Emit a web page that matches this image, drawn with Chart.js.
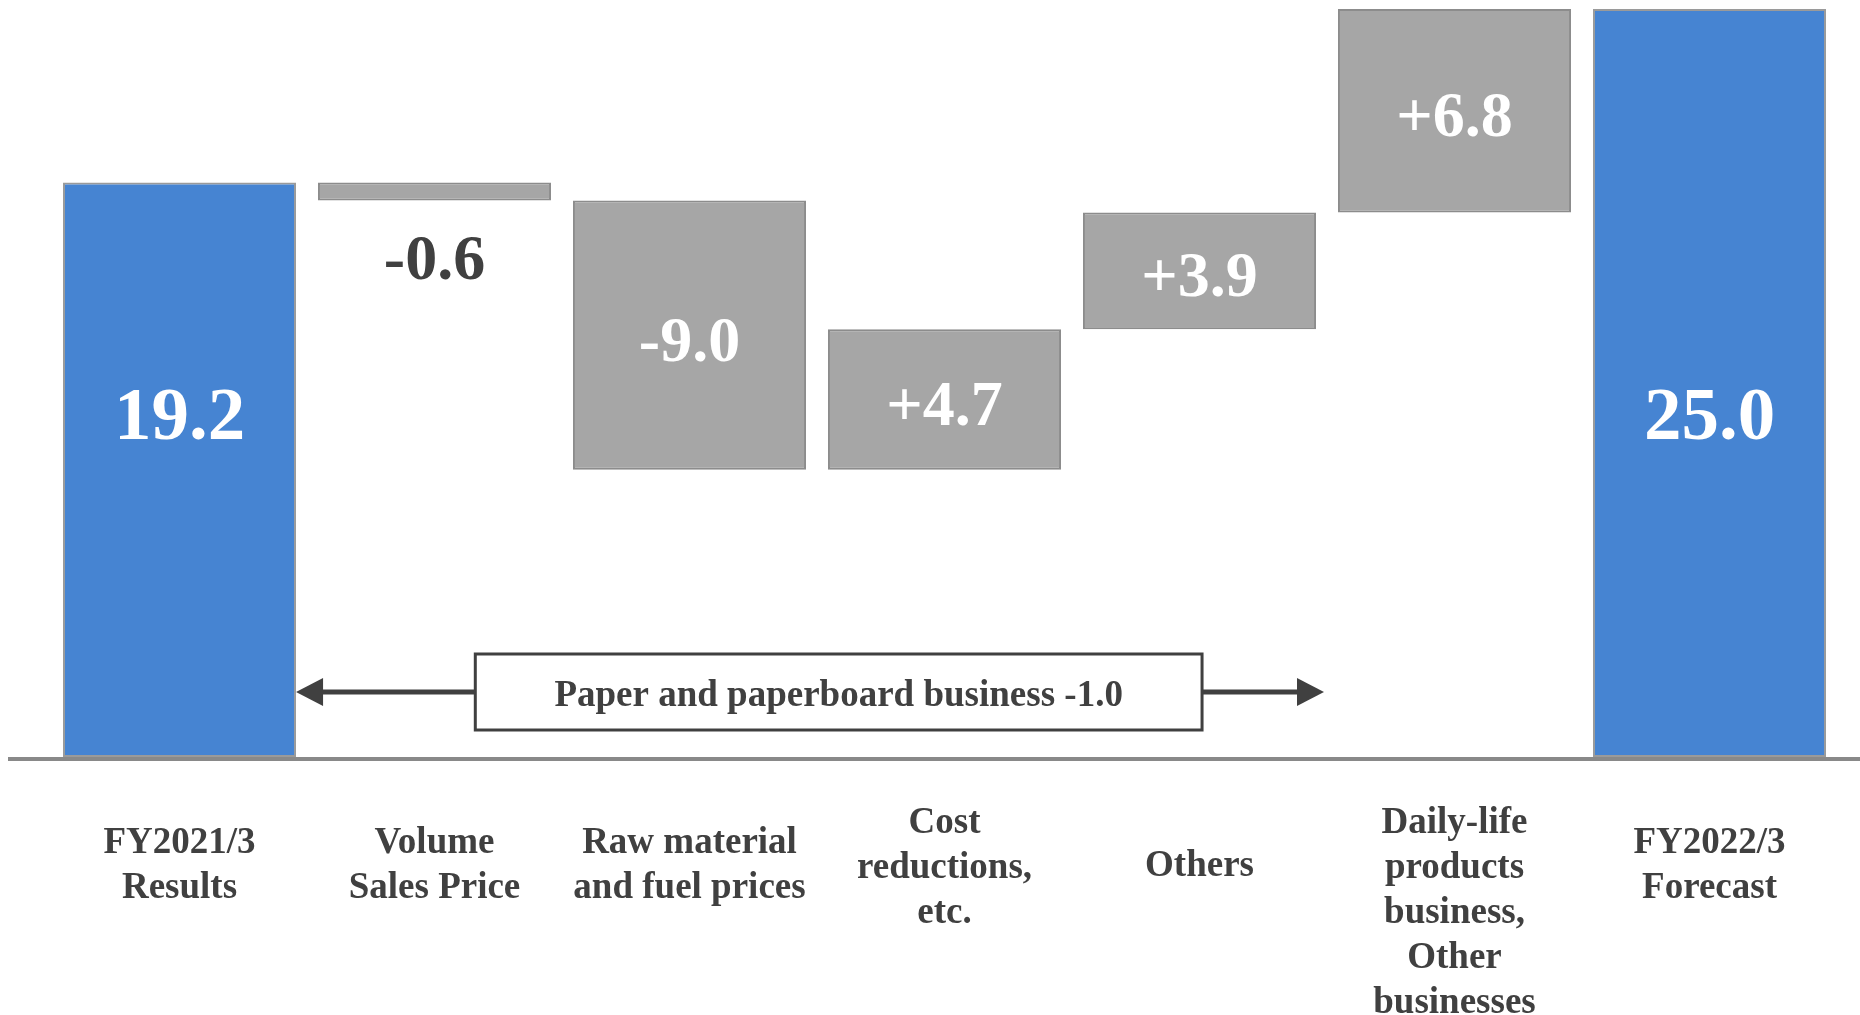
<!DOCTYPE html>
<html>
<head>
<meta charset="utf-8">
<script src="https://cdn.jsdelivr.net/npm/chart.js@4/dist/chart.umd.min.js"></script>
<style>
  html, body { margin: 0; padding: 0; background: #fff; }
  #wrap { width: 1860px; height: 1015px; position: relative; }
</style>
</head>
<body>
<div id="wrap"><canvas id="bridgeChart"></canvas></div>
<script>
// --- data ---
const categories = [
    ['FY2021/3', 'Results'],
    ['Volume', 'Sales Price'],
    ['Raw material', 'and fuel prices'],
    ['Cost', 'reductions,', 'etc.'],
    ['Others'],
    ['Daily-life', 'products', 'business,', 'Other', 'businesses'],
    ['FY2022/3', 'Forecast']
];
const startTotal = 19.2;
const deltas = [-0.6, -9.0, 4.7, 3.9, 6.8];
const endTotal = 25.0;
const noteText = 'Paper and paperboard business -1.0';

// build floating bars [from, to] out of the running sum
const floatData = [[0, startTotal]];
const labelText = [startTotal.toFixed(1)];
let running = startTotal;
deltas.forEach(d => {
    const next = Math.round((running + d) * 10) / 10;
    floatData.push([running, next]);
    labelText.push((d > 0 ? '+' : '') + d.toFixed(1));
    running = next;
});
floatData.push([0, endTotal]);
labelText.push(endTotal.toFixed(1));

const isTotal = floatData.map((d, i) => i === 0 || i === floatData.length - 1);
const BLUE = '#4684d2';
const GREY = '#a6a6a6';
const DARK = '#404040';
const SERIF = '"Liberation Serif", "Times New Roman", serif';

function arrowHead(ctx, tipX, y, dir) {
    ctx.beginPath();
    ctx.moveTo(tipX, y);
    ctx.lineTo(tipX - dir * 27, y - 14);
    ctx.lineTo(tipX - dir * 27, y + 14);
    ctx.closePath();
    ctx.fill();
}

const extrasPlugin = {
    id: 'bridgeExtras',
    afterDatasetsDraw(chart) {
        const { ctx, chartArea, scales: { x, y } } = chart;
        const meta = chart.getDatasetMeta(0);
        const zeroY = y.getPixelForValue(0);
        ctx.save();

        // base line across the whole slide
        ctx.strokeStyle = '#898989';
        ctx.lineWidth = 4;
        ctx.beginPath();
        ctx.moveTo(8, zeroY + 2);
        ctx.lineTo(chart.width, zeroY + 2);
        ctx.stroke();

        // value labels
        ctx.textAlign = 'center';
        ctx.textBaseline = 'middle';
        meta.data.forEach((bar, i) => {
            const p = bar.getProps(['x', 'y', 'base'], true);
            const top = Math.min(p.y, p.base);
            const bottom = Math.max(p.y, p.base);
            if (isTotal[i]) {
                ctx.font = 'bold 75px ' + SERIF;
                ctx.fillStyle = '#ffffff';
                ctx.fillText(labelText[i], p.x, chartArea.bottom - chartArea.height * 0.447);
            } else if (bottom - top < 40) {
                ctx.font = 'bold 64px ' + SERIF;
                ctx.fillStyle = DARK;
                ctx.fillText(labelText[i], p.x, bottom + 62);
            } else {
                ctx.font = 'bold 64px ' + SERIF;
                ctx.fillStyle = '#ffffff';
                ctx.fillText(labelText[i], p.x, (top + bottom) / 2 + 9);
            }
        });

        // category labels under the base line
        ctx.font = 'bold 37px ' + SERIF;
        ctx.fillStyle = DARK;
        const lineH = 45;
        categories.forEach((lines, i) => {
            const cx = x.getPixelForValue(i);
            let firstY = 866 - (lines.length - 1) * lineH / 2;
            firstY = Math.max(firstY, 823);
            lines.forEach((t, k) => ctx.fillText(t, cx, firstY + k * lineH));
        });

        // bracket note for the paper business
        const band = x.getPixelForValue(1) - x.getPixelForValue(0);
        const boxL = x.getPixelForValue(1) + band * 0.16;
        const boxR = x.getPixelForValue(4) + band * 0.01;
        const midY = chartArea.bottom - 65;
        const boxH = 76;
        const first = meta.data[0];
        const leftTip = first.x + first.width / 2;
        const rightTip = x.getPixelForValue(4) + band / 2 - 3;

        ctx.strokeStyle = DARK;
        ctx.fillStyle = DARK;
        ctx.lineWidth = 5;
        ctx.beginPath();
        ctx.moveTo(leftTip + 20, midY);
        ctx.lineTo(boxL, midY);
        ctx.moveTo(boxR, midY);
        ctx.lineTo(rightTip - 20, midY);
        ctx.stroke();
        arrowHead(ctx, leftTip, midY, -1);
        arrowHead(ctx, rightTip, midY, 1);

        ctx.fillStyle = '#ffffff';
        ctx.fillRect(boxL, midY - boxH / 2, boxR - boxL, boxH);
        ctx.lineWidth = 3;
        ctx.strokeRect(boxL, midY - boxH / 2, boxR - boxL, boxH);
        ctx.fillStyle = DARK;
        ctx.font = 'bold 37px ' + SERIF;
        ctx.fillText(noteText, (boxL + boxR) / 2, midY + 4);

        ctx.restore();
    }
};

new Chart(document.getElementById('bridgeChart').getContext('2d'), {
    type: 'bar',
    data: {
        labels: categories,
        datasets: [{
            data: floatData,
            backgroundColor: isTotal.map(t => t ? BLUE : GREY),
            borderColor: isTotal.map(t => t ? '#9a9a9a' : '#8c8c8c'),
            borderWidth: 2,
            borderSkipped: false,
            categoryPercentage: 1,
            barPercentage: 0.914
        }]
    },
    options: {
        responsive: true, maintainAspectRatio: false, animation: false,
        layout: { padding: { left: 52, right: 23, top: 3, bottom: 258 } },
        plugins: { legend: { display: false }, tooltip: { enabled: false } },
        scales: {
            x: { display: false },
            y: { display: false, min: 0, max: 25.2 }
        }
    },
    plugins: [extrasPlugin]
});
</script>
</body>
</html>
